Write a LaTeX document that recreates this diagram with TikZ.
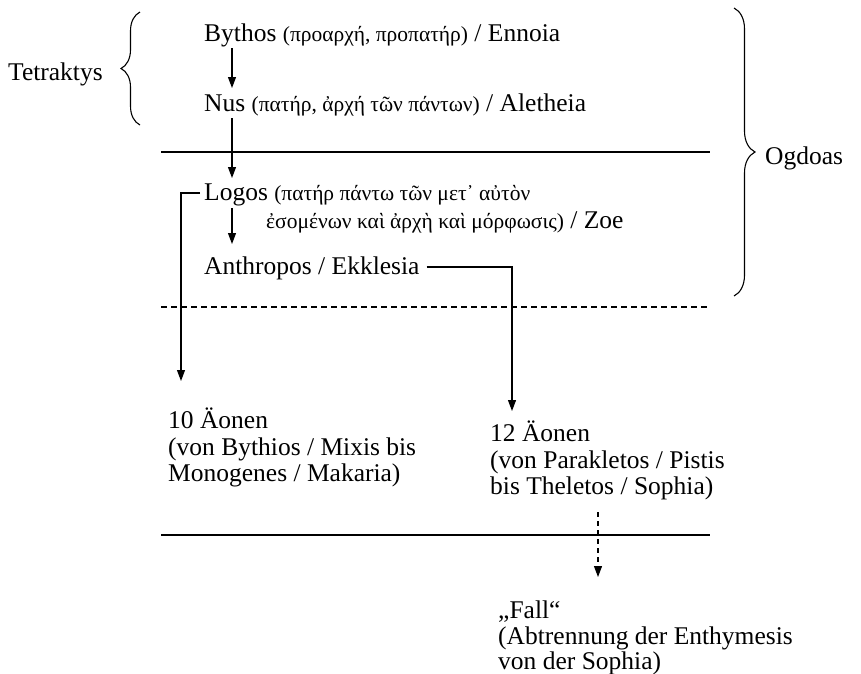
\documentclass[tikz,border=0pt]{standalone}
\usepackage{fontspec}
\setmainfont{Liberation Serif}
\usetikzlibrary{arrows.meta,decorations.pathreplacing}
\begin{document}
\begin{tikzpicture}[x=1pt,y=-1pt,
  txt/.style={inner sep=0pt, anchor=base west, font=\fontsize{25.5}{30}\selectfont},
  arr/.style={-{Triangle[length=11pt,width=8pt]}, line width=1.1pt},
  darr/.style={arr, dash pattern=on 5pt off 4pt},
  rulel/.style={line width=1.4pt},
  druleline/.style={line width=1.1pt, dash pattern=on 6pt off 4pt},
  bracel/.style={decorate, decoration={brace, amplitude=19pt}, line width=1.1pt}]
\useasboundingbox (0,0) rectangle (861,673);
\newcommand\gk[1]{{\fontsize{21.5}{25}\selectfont #1}}
% text nodes
\node[txt] (tet) at (8,80) {Tetraktys};
\node[txt] (by) at (204,41) {Bythos \gk{(προαρχή, προπατήρ)} / Ennoia};
\node[txt] (nus) at (204,111) {Nus \gk{(πατήρ, ἀρχή τῶν πάντων)} / Aletheia};
\node[txt] (logos) at (204,200) {Logos \gk{(πατήρ πάντω τῶν μετ᾽ αὐτὸν}};
\node[txt] (logos2) at (266,228) {\gk{ἐσομένων καὶ ἀρχὴ καὶ μόρφωσις)} / Zoe};
\node[txt] (anth) at (204,274) {Anthropos / Ekklesia};
\node[txt] (a10) at (168,428) {10 Äonen};
\node[txt] (a10b) at (168,455) {(von Bythios / Mixis bis};
\node[txt] (a10c) at (168,481) {Monogenes / Makaria)};
\node[txt] (a12) at (490,441) {12 Äonen};
\node[txt] (a12b) at (490,468) {(von Parakletos / Pistis};
\node[txt] (a12c) at (490,494) {bis Theletos / Sophia)};
\node[txt] (fall) at (498,618) {„Fall“};
\node[txt] (fallb) at (498,644) {(Abtrennung der Enthymesis};
\node[txt] (fallc) at (498,669) {von der Sophia)};
\node[txt] (og) at (765,164) {Ogdoas};
% rules
\draw[rulel] (161,152) -- (710,152);
\draw[druleline] (161,307) -- (710,307);
\draw[rulel] (161,535) -- (710,535);
% braces
\draw[bracel] (140,125) -- (140,12);
\draw[bracel, decoration={amplitude=21pt}] (734,8) -- (734,296);
% arrows
\draw[arr] ([xshift=28pt,yshift=-7pt]by.base west) -- ([xshift=28pt,yshift=23pt]nus.base west);
\draw[arr] ([xshift=28pt,yshift=-7pt]nus.base west) -- ([xshift=28pt,yshift=22pt]logos.base west);
\draw[arr] ([xshift=28pt,yshift=-8pt]logos.base west) -- ([xshift=28pt,yshift=30pt]anth.base west);
\draw[arr] ([xshift=-4pt,yshift=7pt]logos.base west) -| ([xshift=13pt,yshift=47pt]a10.base west);
\draw[arr] ([xshift=7pt,yshift=7pt]anth.base east) -| ([xshift=22pt,yshift=30pt]a12.base west);
\draw[darr] ([xshift=108pt,yshift=-18pt]a12c.base west) -- ([xshift=100pt,yshift=41pt]fall.base west);
\end{tikzpicture}
\end{document}
